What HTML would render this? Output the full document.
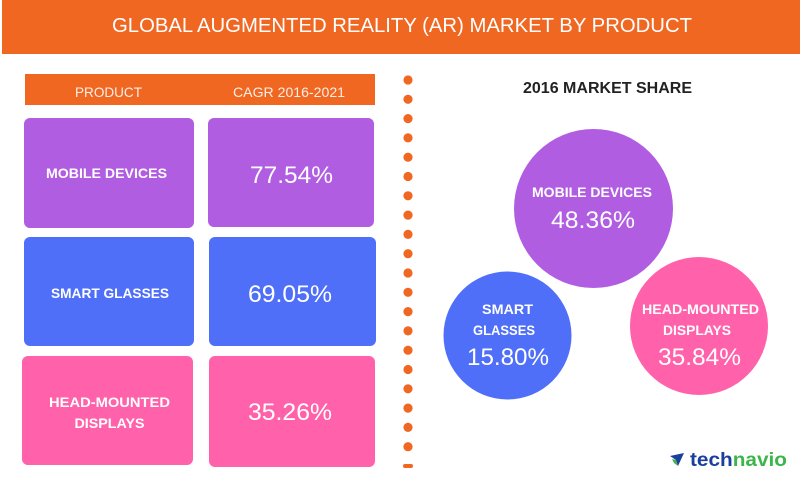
<!DOCTYPE html>
<html>
<head>
<meta charset="utf-8">
<style>
  html,body{margin:0;padding:0;background:#fff;}
  svg{display:block;}
  text{font-family:"Liberation Sans",sans-serif;}
</style>
</head>
<body>
<svg width="800" height="486" viewBox="0 0 800 486" xmlns="http://www.w3.org/2000/svg">
  <rect x="0" y="0" width="800" height="486" fill="#ffffff"/>
  <!-- Header -->
  <rect x="2" y="0" width="798" height="54" fill="#F06722"/>
  <text x="402" y="32" fill="#ffffff" font-size="20" text-anchor="middle" textLength="580" lengthAdjust="spacingAndGlyphs">GLOBAL AUGMENTED REALITY (AR) MARKET BY PRODUCT</text>

  <!-- Table header -->
  <rect x="25" y="74" width="350" height="31" fill="#F06722"/>
  <text x="108.5" y="97" fill="#fdeee6" font-size="14" text-anchor="middle" textLength="67" lengthAdjust="spacingAndGlyphs">PRODUCT</text>
  <text x="289" y="97" fill="#fdeee6" font-size="14" text-anchor="middle" textLength="112" lengthAdjust="spacingAndGlyphs">CAGR 2016-2021</text>

  <!-- Row 1 -->
  <rect x="24" y="118" width="170" height="110" rx="6" fill="#B05DE2"/>
  <rect x="208" y="118" width="166" height="109" rx="6" fill="#B05DE2"/>
  <text x="106.5" y="178" fill="#fff" font-size="14" font-weight="bold" text-anchor="middle" textLength="121" lengthAdjust="spacingAndGlyphs">MOBILE DEVICES</text>
  <text x="291.5" y="183" fill="#fff" font-size="24" text-anchor="middle" textLength="83" lengthAdjust="spacingAndGlyphs">77.54%</text>

  <!-- Row 2 -->
  <rect x="24" y="237" width="170" height="109" rx="6" fill="#4F6FF9"/>
  <rect x="209" y="237" width="167" height="109" rx="6" fill="#4F6FF9"/>
  <text x="110" y="298" fill="#fff" font-size="14" font-weight="bold" text-anchor="middle" textLength="118" lengthAdjust="spacingAndGlyphs">SMART GLASSES</text>
  <text x="290" y="302" fill="#fff" font-size="24" text-anchor="middle" textLength="84" lengthAdjust="spacingAndGlyphs">69.05%</text>

  <!-- Row 3 -->
  <rect x="22" y="356" width="171" height="109" rx="6" fill="#FF62AA"/>
  <rect x="209" y="356" width="166" height="111" rx="6" fill="#FF62AA"/>
  <text x="109.5" y="407" fill="#fff" font-size="14" font-weight="bold" text-anchor="middle" textLength="121" lengthAdjust="spacingAndGlyphs">HEAD-MOUNTED</text>
  <text x="109.5" y="428" fill="#fff" font-size="14" font-weight="bold" text-anchor="middle" textLength="70" lengthAdjust="spacingAndGlyphs">DISPLAYS</text>
  <text x="290" y="420" fill="#fff" font-size="24" text-anchor="middle" textLength="84" lengthAdjust="spacingAndGlyphs">35.26%</text>

  <!-- Dotted divider -->
  <g fill="#F06722">
    <circle cx="408" cy="80" r="4.6"/>
    <circle cx="408" cy="99.3" r="4.6"/>
    <circle cx="408" cy="118.6" r="4.6"/>
    <circle cx="408" cy="137.9" r="4.6"/>
    <circle cx="408" cy="157.2" r="4.6"/>
    <circle cx="408" cy="176.5" r="4.6"/>
    <circle cx="408" cy="195.8" r="4.6"/>
    <circle cx="408" cy="215.1" r="4.6"/>
    <circle cx="408" cy="234.4" r="4.6"/>
    <circle cx="408" cy="253.7" r="4.6"/>
    <circle cx="408" cy="273" r="4.6"/>
    <circle cx="408" cy="292.3" r="4.6"/>
    <circle cx="408" cy="311.6" r="4.6"/>
    <circle cx="408" cy="330.9" r="4.6"/>
    <circle cx="408" cy="350.2" r="4.6"/>
    <circle cx="408" cy="369.5" r="4.6"/>
    <circle cx="408" cy="388.8" r="4.6"/>
    <circle cx="408" cy="408.1" r="4.6"/>
    <circle cx="408" cy="427.4" r="4.6"/>
    <circle cx="408" cy="446.7" r="4.6"/>
  </g>
  <rect x="403" y="464" width="10" height="4" rx="2" fill="#F06722"/>

  <!-- Right title -->
  <text x="607.5" y="93" fill="#222222" font-size="16" font-weight="bold" text-anchor="middle" textLength="169" lengthAdjust="spacingAndGlyphs">2016 MARKET SHARE</text>

  <!-- Circles -->
  <circle cx="593.5" cy="208.5" r="79.5" fill="#B05DE2"/>
  <text x="592" y="197" fill="#fff" font-size="14" font-weight="bold" text-anchor="middle" textLength="120" lengthAdjust="spacingAndGlyphs">MOBILE DEVICES</text>
  <text x="593" y="228" fill="#fff" font-size="24" text-anchor="middle" textLength="84" lengthAdjust="spacingAndGlyphs">48.36%</text>

  <circle cx="507.5" cy="335.5" r="64" fill="#4F6FF9"/>
  <text x="507.5" y="314" fill="#fff" font-size="14" font-weight="bold" text-anchor="middle" textLength="51" lengthAdjust="spacingAndGlyphs">SMART</text>
  <text x="504" y="335" fill="#fff" font-size="14" font-weight="bold" text-anchor="middle" textLength="62" lengthAdjust="spacingAndGlyphs">GLASSES</text>
  <text x="508" y="365" fill="#fff" font-size="24" text-anchor="middle" textLength="82" lengthAdjust="spacingAndGlyphs">15.80%</text>

  <circle cx="699" cy="326" r="69" fill="#FF62AA"/>
  <text x="700.5" y="314" fill="#fff" font-size="14" font-weight="bold" text-anchor="middle" textLength="117" lengthAdjust="spacingAndGlyphs">HEAD-MOUNTED</text>
  <text x="697" y="335" fill="#fff" font-size="14" font-weight="bold" text-anchor="middle" textLength="68" lengthAdjust="spacingAndGlyphs">DISPLAYS</text>
  <text x="699.5" y="365" fill="#fff" font-size="24" text-anchor="middle" textLength="83" lengthAdjust="spacingAndGlyphs">35.84%</text>

  <!-- technavio logo -->
  <polygon points="670,456 684,453 678,466 676,460" fill="#1B3F9E"/>
  <polygon points="672,459 676,460 678,466 674,463" fill="#3CB64A"/>
  <text x="690" y="466" font-size="19" font-weight="bold" textLength="97" lengthAdjust="spacingAndGlyphs"><tspan fill="#1B3F9E">tech</tspan><tspan fill="#3CB64A">navio</tspan></text>
</svg>
</body>
</html>
